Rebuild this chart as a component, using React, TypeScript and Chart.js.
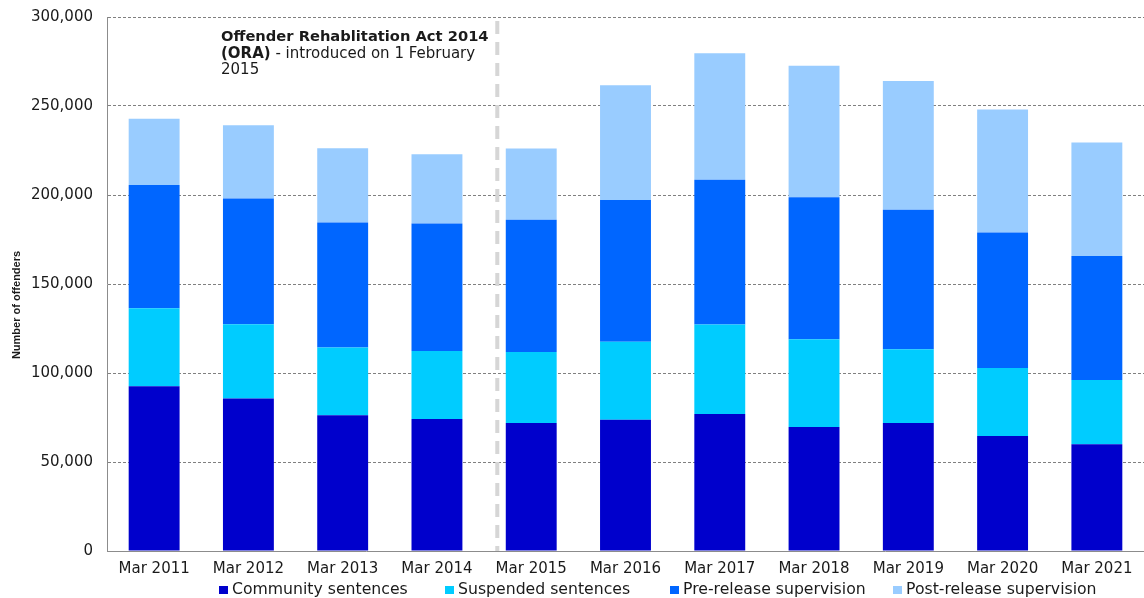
import React, { useEffect, useRef } from 'react';
import { Chart, registerables } from 'chart.js';

Chart.register(...registerables);

const categories = ['Mar 2011', 'Mar 2012', 'Mar 2013', 'Mar 2014', 'Mar 2015', 'Mar 2016', 'Mar 2017', 'Mar 2018', 'Mar 2019', 'Mar 2020', 'Mar 2021'];
const communitySentences = [92500, 85700, 76200, 74100, 71900, 73700, 76900, 69600, 71900, 64600, 60000];
const suspendedSentences = [43900, 41700, 38100, 38300, 39900, 43800, 50300, 49300, 41400, 38200, 36100];
const preReleaseSupervision = [69200, 70700, 70300, 71600, 74300, 79700, 81400, 79800, 78400, 76200, 69600];
const postReleaseSupervision = [37200, 41100, 41700, 38900, 40000, 64500, 71000, 73900, 72300, 69000, 63800];
const seriesNames = ['Community sentences', 'Suspended sentences', 'Pre-release supervision', 'Post-release supervision'];
const seriesColors = ['#0000CC', '#00CCFF', '#0066FF', '#99CCFF'];
const yAxisTitle = 'Number of offenders';
const oraBoldTitle = 'Offender Rehablitation Act 2014';
const oraBoldShort = '(ORA)';
const oraRest = ' - introduced on 1 February';
const oraYear = '2015';
const oraLinePosition = 3.64; // category index where ORA line sits

const FONT = "'DejaVu Sans', sans-serif";
const TEXT = '#1a1a1a';

export default function App() {
  const ref = useRef<HTMLCanvasElement>(null);

  useEffect(() => {
    document.body.style.margin = '0';
    const canvas = ref.current;
    if (!canvas) return;

    const extras = {
      id: 'extras',
      afterDatasetsDraw(chart: any) {
        const { ctx, chartArea } = chart;
        const xs = chart.scales.x;
        const i0 = Math.floor(oraLinePosition);
        const f = oraLinePosition - i0;
        const p0 = xs.getPixelForValue(i0);
        const p1 = xs.getPixelForValue(i0 + 1);
        const x = p0 + f * (p1 - p0);
        ctx.save();
        ctx.strokeStyle = '#d6d6d6';
        ctx.lineWidth = 4;
        ctx.setLineDash([13, 8]);
        ctx.beginPath();
        ctx.moveTo(x, chartArea.top + 4);
        ctx.lineTo(x, chartArea.bottom);
        ctx.stroke();
        ctx.restore();
      },
      afterDraw(chart: any) {
        const { ctx } = chart;
        ctx.save();
        // annotation
        ctx.fillStyle = TEXT;
        ctx.textBaseline = 'middle';
        ctx.textAlign = 'left';
        const ax = 221;
        ctx.font = `bold 14.7px ${FONT}`;
        ctx.fillText(oraBoldTitle, ax, 37);
        ctx.font = `bold 15px ${FONT}`;
        ctx.fillText(oraBoldShort, ax, 54);
        const w = ctx.measureText(oraBoldShort).width;
        ctx.font = `15px ${FONT}`;
        ctx.fillText(oraRest, ax + w, 54);
        ctx.fillText(oraYear, ax, 70);

        // y axis title
        ctx.save();
        ctx.translate(17, 305);
        ctx.rotate(-Math.PI / 2);
        ctx.textAlign = 'center';
        ctx.font = `bold 11px 'Liberation Sans', Arial, sans-serif`;
        ctx.fillText(yAxisTitle, 0, 0);
        ctx.restore();

        // legend
        const starts = [219, 445, 670, 893];
        ctx.font = `15.7px ${FONT}`;
        ctx.textAlign = 'left';
        chart.data.datasets.forEach((ds: any, i: number) => {
          const sx = starts[i];
          ctx.fillStyle = ds.backgroundColor;
          ctx.fillRect(sx, 586, 9, 8);
          ctx.fillStyle = TEXT;
          ctx.fillText(ds.label, sx + 13, 590);
        });
        ctx.restore();
      },
    };

    const seriesData = [communitySentences, suspendedSentences, preReleaseSupervision, postReleaseSupervision];

    const chart = new Chart(canvas, {
      type: 'bar',
      data: {
        labels: categories,
        datasets: seriesData.map((d, i) => ({
          label: seriesNames[i],
          data: d,
          backgroundColor: seriesColors[i],
          borderWidth: 0,
          barPercentage: 0.54,
          categoryPercentage: 1.0,
        })),
      },
      options: {
        animation: false,
        responsive: false,
        devicePixelRatio: 1,
        layout: { padding: { top: 17, right: 0, bottom: 0, left: 0 } },
        plugins: {
          legend: { display: false },
          tooltip: { enabled: false },
        },
        scales: {
          x: {
            stacked: true,
            grid: { display: false, drawTicks: false },
            border: { display: true, color: '#8c8c8c', width: 1 },
            ticks: {
              color: TEXT,
              font: { family: FONT, size: 15 },
              padding: 9,
              maxRotation: 0,
              autoSkip: false,
            },
            afterFit: (s: any) => {
              s.height = 47;
              s.paddingLeft = 0;
              s.paddingRight = 0;
            },
          },
          y: {
            stacked: true,
            min: 0,
            max: 300000,
            ticks: {
              stepSize: 50000,
              color: TEXT,
              font: { family: FONT, size: 15 },
              padding: 14,
              callback: (v: any) => Number(v).toLocaleString('en-US'),
            },
            grid: {
              color: (c: any) => (c.tick && c.tick.value === 0 ? 'rgba(0,0,0,0)' : '#808080'),
              lineWidth: 1,
              drawTicks: false,
            },
            border: { display: true, color: '#8c8c8c', width: 1, dash: [3, 2] },
            afterFit: (s: any) => {
              s.width = 107;
              s.paddingTop = 0;
              s.paddingBottom = 0;
            },
          },
        },
      },
      plugins: [extras],
    });

    return () => chart.destroy();
  }, []);

  return (
    <div style={{ width: 1144, height: 598 }}>
      <canvas ref={ref} width={1144} height={598} style={{ display: 'block' }} />
    </div>
  );
}
